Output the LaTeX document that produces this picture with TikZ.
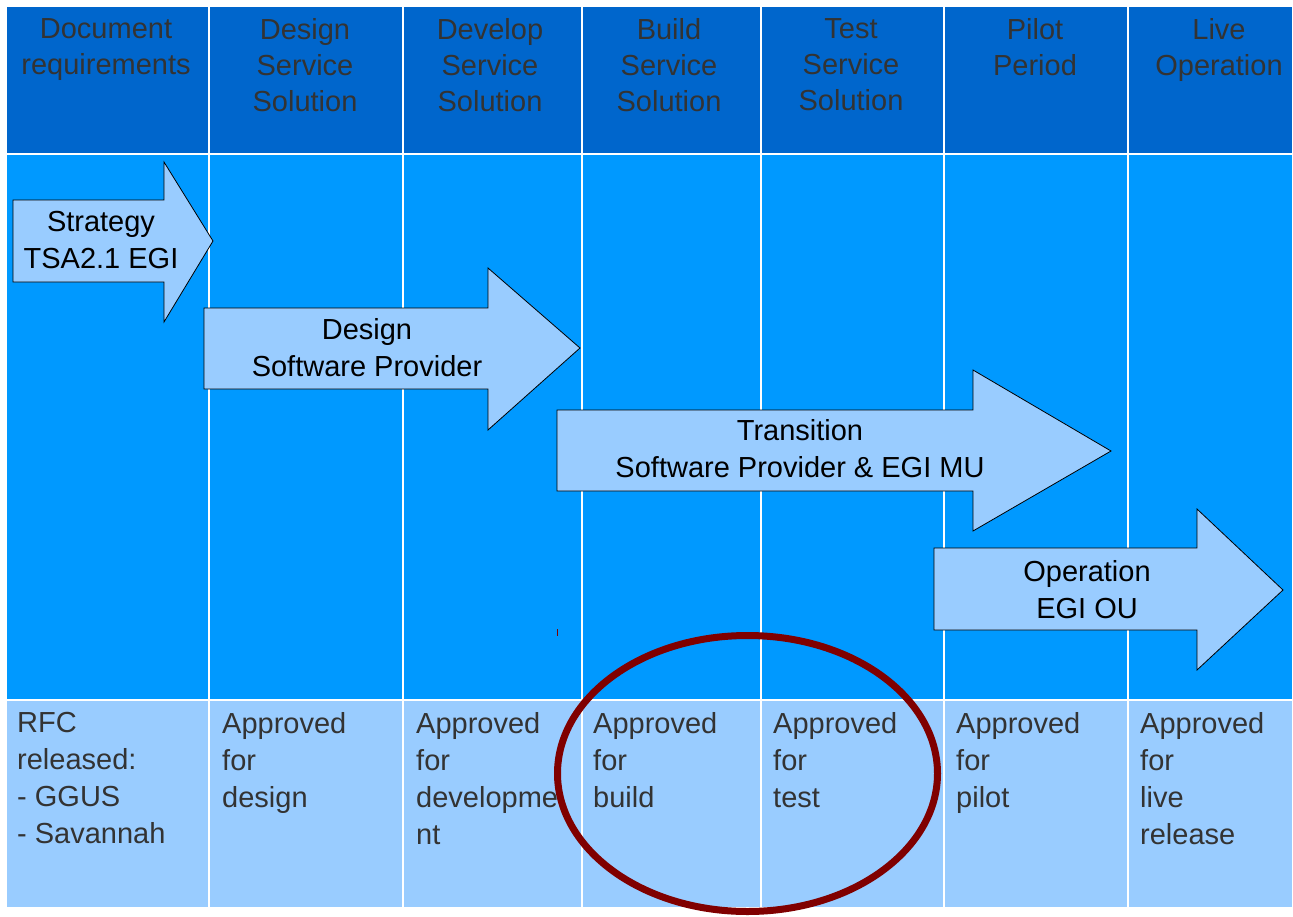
\documentclass[tikz,border=0pt]{standalone}
\usepackage{fontspec}
\setmainfont{Liberation Sans}
\definecolor{headblue}{HTML}{0066CC}
\definecolor{midblue}{HTML}{0099FF}
\definecolor{lightblue}{HTML}{99CCFF}
\definecolor{textgray}{HTML}{333333}
\definecolor{circlered}{HTML}{800000}
\tikzset{
  head/.style={anchor=north, inner sep=0pt, align=center, text=textgray, font=\fontsize{29}{36}\selectfont},
  gate/.style={anchor=north west, inner sep=0pt, align=left, text=textgray, font=\fontsize{29}{37}\selectfont},
  phase/.style={draw=black, fill=lightblue, line width=0.8pt, line join=miter},
  phasetext/.style={inner sep=0pt, align=center, font=\fontsize{29}{37}\selectfont},
  grid/.style={white, line width=1.5pt}
}
\begin{document}
\begin{tikzpicture}[x=1pt, y=-1pt]
        \useasboundingbox (0,0) rectangle (1293,916);
        % table rows
        \fill[headblue] (6,6) rectangle (1293,154);
        \fill[midblue] (6,154) rectangle (1293,700);
        \fill[lightblue] (6,700) rectangle (1293,908);
        \draw[grid] (6,6) rectangle (1293,908);
        \draw[grid] (6,154) -- (1293,154);
        \draw[grid] (6,700) -- (1293,700);
        \foreach \x in {209,403,582,761,944,1128}
            \draw[grid] (\x,6) -- (\x,908);
        % column heads
        \node[head] (hdoc) at (106,18.5) {Document\\requirements};
        \node[head] (hdes) at (305,18.5) {Design\\Service\\Solution};
        \node[head] (hdev) at (490,18.5) {Develop\\Service\\Solution};
        \node[head] (hbuild) at (669,18.5) {Build\\Service\\Solution};
        \node[head] (htest) at (851,18.5) {Test\\Service\\Solution};
        \node[head] (hpilot) at (1035,18.5) {Pilot\\Period};
        \node[head] (hlive) at (1219,18.5) {Live\\Operation};
        % phases
        \draw[phase] (13,200) -- (164,200) -- (164,162) -- (213,241) -- (164,322) -- (164,282) -- (13,282) -- cycle;
        \draw[phase] (204,308) -- (488,308) -- (488,268) -- (580,348) -- (488,430) -- (488,389) -- (204,389) -- cycle;
        \draw[phase] (557,410) -- (973,410) -- (973,370) -- (1111,451) -- (973,531) -- (973,491) -- (557,491) -- cycle;
        \draw[phase] (934,548) -- (1197,548) -- (1197,509) -- (1283,590) -- (1197,670) -- (1197,630) -- (934,630) -- cycle;
        \node[phasetext] (astrategy) at (101,240.5) {Strategy\\TSA2.1 EGI};
        \node[phasetext] (adesign) at (367,347.5) {Design\\Software Provider};
        \node[phasetext] (atransition) at (800,449) {Transition\\Software Provider \& EGI MU};
        \node[phasetext] (aoperation) at (1087,589.5) {Operation\\EGI OU};
        % gates
        \node[gate] (gdoc) at (17,712.5) {RFC\\released:\\- GGUS\\- Savannah};
        \node[gate] (gdes) at (222,712.5) {Approved\\for\\design};
        \node[gate] (gdev) at (416,712.5) {Approved\\for\\developme\\nt};
        \node[gate] (gbuild) at (593,712.5) {Approved\\for\\build};
        \node[gate] (gtest) at (773,712.5) {Approved\\for\\test};
        \node[gate] (gpilot) at (956,712.5) {Approved\\for\\pilot};
        \node[gate] (glive) at (1140,712.5) {Approved\\for\\live\\release};
        % highlight
        \draw[circlered, line width=7pt] (747.5,773.5) ellipse [x radius=190, y radius=138];
        \draw[circlered, line width=1pt] (557,629) -- (557,636);
    \end{tikzpicture}
\end{document}
